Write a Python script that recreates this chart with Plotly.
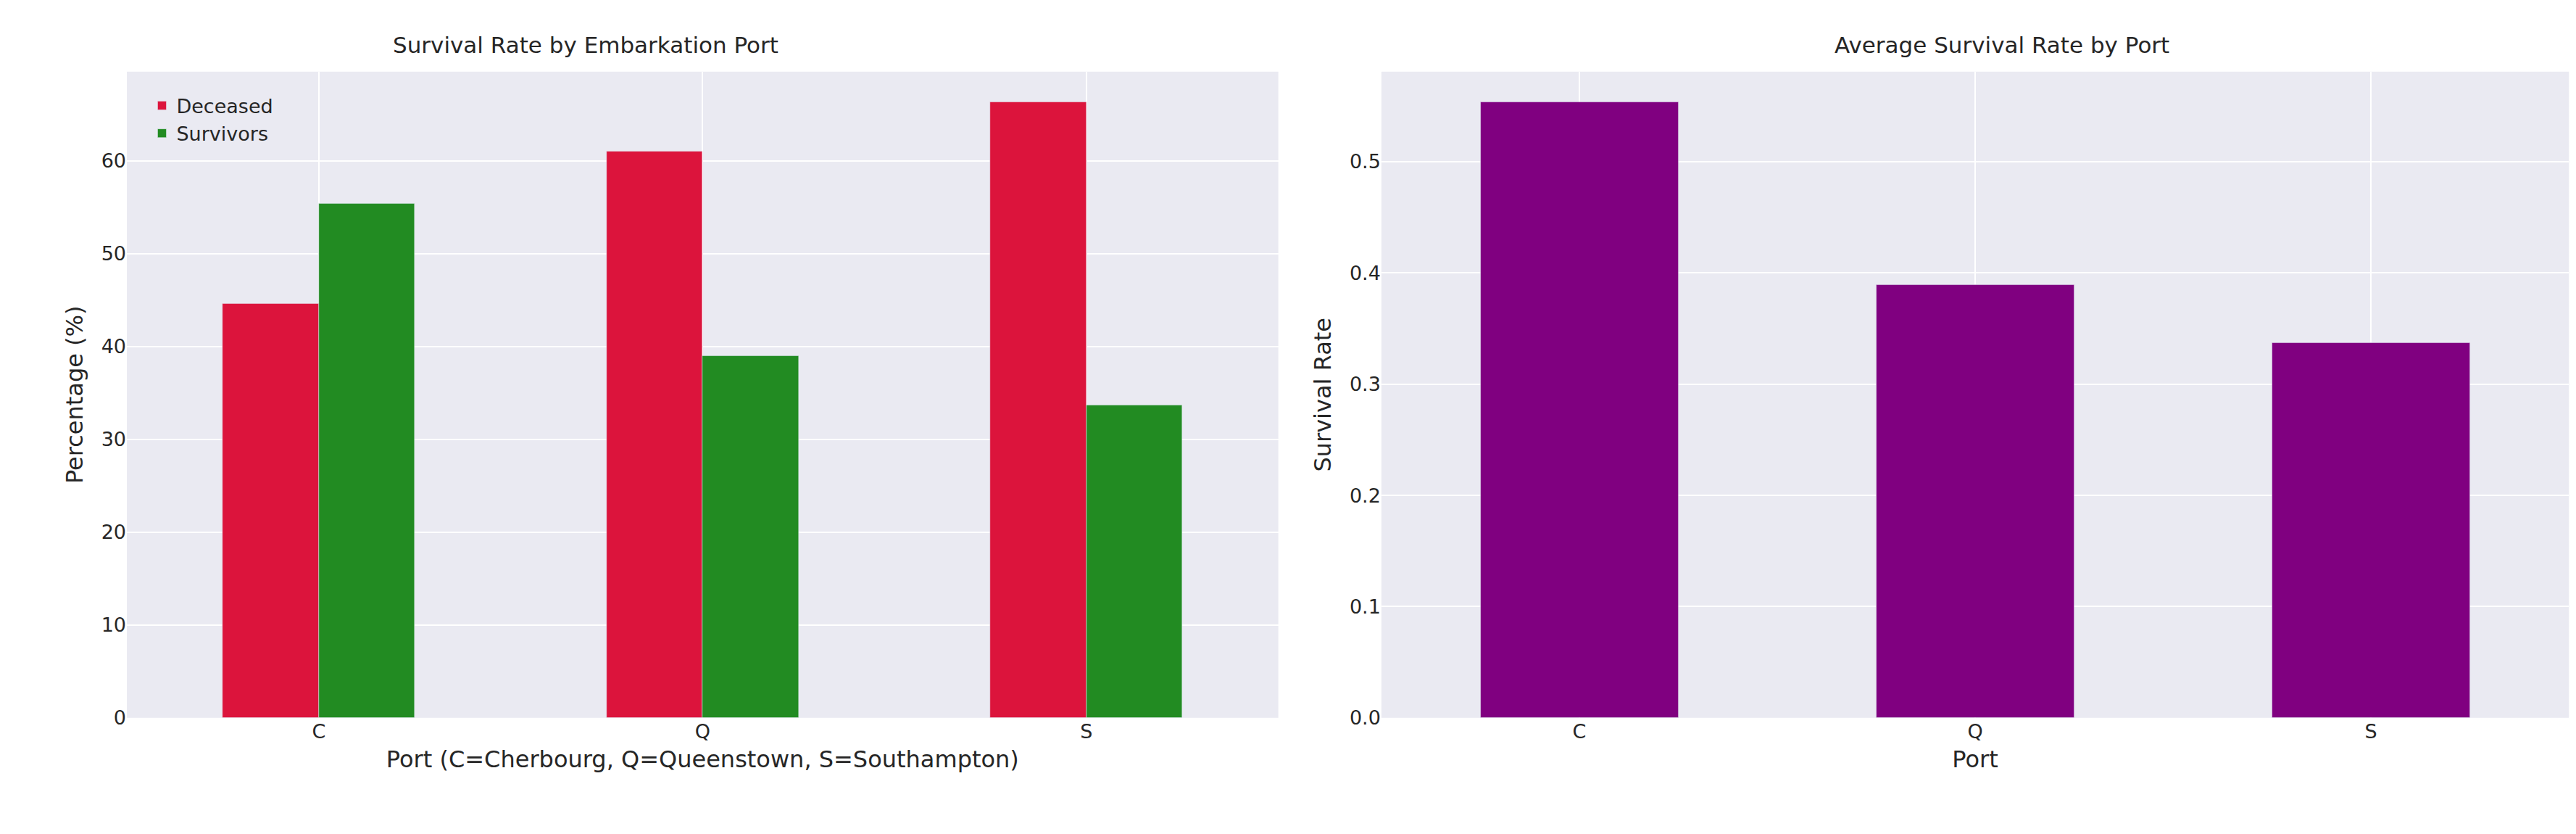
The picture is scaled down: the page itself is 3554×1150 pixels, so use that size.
import plotly.graph_objects as go
from plotly.subplots import make_subplots

ports = ["C", "Q", "S"]
deceased = [44.64, 61.04, 66.30]
survivors = [55.36, 38.96, 33.70]
avg_rate = [0.5536, 0.3896, 0.3370]

fig = make_subplots(rows=1, cols=2,
                    subplot_titles=("Survival Rate by Embarkation Port", "Average Survival Rate by Port"))

fig.add_trace(go.Bar(x=ports, y=deceased, name="Deceased", marker_color="crimson",
                     width=0.25, offset=-0.25), row=1, col=1)
fig.add_trace(go.Bar(x=ports, y=survivors, name="Survivors", marker_color="forestgreen",
                     width=0.25, offset=0), row=1, col=1)
fig.add_trace(go.Bar(x=ports, y=avg_rate, marker_color="purple", width=0.5,
                     showlegend=False), row=1, col=2)

font = dict(family="DejaVu Sans", size=27, color="#262626")
fig.update_layout(
    width=3554, height=1150, font=font,
    paper_bgcolor="white", plot_bgcolor="#EAEAF2",
    margin=dict(l=0, r=0, t=0, b=0),
    bargap=0,
    legend=dict(x=0.055, y=0.9, xanchor="left", yanchor="top", bgcolor="rgba(0,0,0,0)",
                font=dict(size=27)),
)
fig.update_xaxes(range=[-0.5, 2.5], showgrid=True, gridcolor="white", gridwidth=2,
                 ticks="", zeroline=False, tickfont=dict(size=27))
fig.update_yaxes(showgrid=True, gridcolor="white", gridwidth=2, zeroline=False,
                 ticks="", tickfont=dict(size=27))
fig.update_xaxes(domain=[0.047, 0.494], row=1, col=1,
                 title_text="Port (C=Cherbourg, Q=Queenstown, S=Southampton)", title_standoff=12)
fig.update_xaxes(domain=[0.534, 0.995], row=1, col=2, title_text="Port", title_standoff=12)
fig.update_yaxes(domain=[0.135, 0.92], range=[0, 69.6], dtick=10, row=1, col=1,
                 title_text="Percentage (%)")
fig.update_yaxes(domain=[0.135, 0.92], range=[0, 0.581], dtick=0.1, tickformat=".1f",
                 row=1, col=2, title_text="Survival Rate")
for a in fig.layout.annotations:
    a.font = dict(size=31, color="#262626", family="DejaVu Sans")
    a.y = 0.935
    a.yanchor = "bottom"

fig.write_html("out.html")
